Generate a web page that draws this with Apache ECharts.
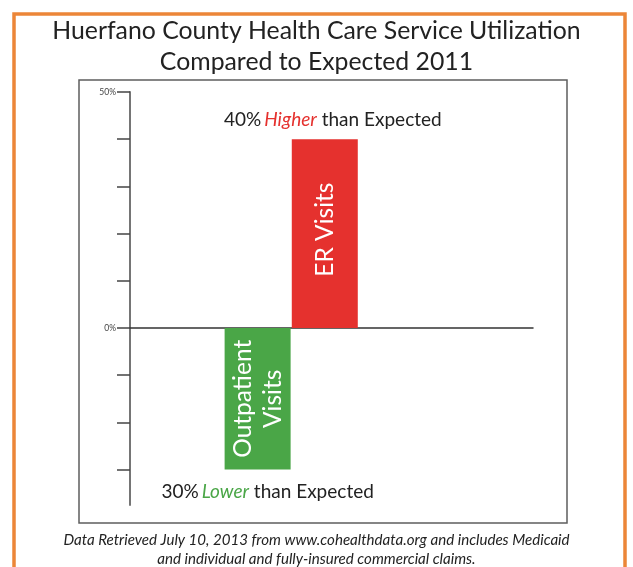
<!DOCTYPE html>
<html>
<head>
<meta charset="utf-8">
<script src="https://cdn.jsdelivr.net/npm/echarts@6/dist/echarts.min.js"></script>
<style>
html,body{margin:0;padding:0;background:#fff;}
#chart{width:633px;height:567px;}
</style>
</head>
<body>
<div id="chart"></div>
<script>
// ---- data ----
const titleLines = ['Huerfano County Health Care Service Utilization', 'Compared to Expected 2011'];
const categories = ['Outpatient\nVisits', 'ER Visits'];
const values = [-30, 40];
const comparisonWords = ['Lower', 'Higher'];
const barColors = ['#4aa647', '#e5312e'];
const yTickValues = [-30, -20, -10, 0, 10, 20, 30, 40, 50];
const yLabelValues = [0, 50];
const footnoteLines = [
  'Data Retrieved July 10, 2013 from www.cohealthdata.org and includes Medicaid',
  'and individual and fully-insured commercial claims.'
];

const FONT = 'Lato';
const chart = echarts.init(document.getElementById('chart'), null, {renderer: 'canvas'});

const barData = values.map((v, i) => ({
  value: [i, v],
  itemStyle: {color: barColors[i]},
  label: {offset: v < 0 ? [0, 0] : [4, 0]}
}));

const annoData = values.map((v, i) => ({
  value: [i, v],
  label: {
    position: v < 0 ? 'bottom' : 'top',
    distance: v < 0 ? 13 : 10,
    offset: v < 0 ? [10, 0] : [8, 0],
    formatter: () => '{n|' + Math.abs(v) + '%} {' + (v < 0 ? 'lo' : 'hi') + '|' + comparisonWords[i] + '}{n| than Expected}'
  }
}));

chart.setOption({
  backgroundColor: '#fff',
  animation: false,
  title: [{
    text: titleLines.join('\n'),
    left: 'center',
    top: 11,
    textStyle: {fontFamily: FONT, fontSize: 24.8, fontWeight: 'normal', color: '#222', lineHeight: 31}
  }, {
    text: footnoteLines.join('\n'),
    left: 'center',
    top: 525,
    textStyle: {fontFamily: FONT, fontSize: 15.1, fontStyle: 'italic', fontWeight: 'normal', color: '#222', lineHeight: 19.5}
  }],
  graphic: [{
    type: 'rect',
    shape: {x: 14, y: 14, width: 611, height: 620},
    style: {fill: 'none', stroke: '#ec8638', lineWidth: 3.5},
    silent: true
  }, {
    type: 'rect',
    shape: {x: 79, y: 80, width: 488, height: 443},
    style: {fill: 'none', stroke: '#5e5e5e', lineWidth: 1.5},
    silent: true
  }],
  grid: {left: 130, right: 100, top: 92, bottom: 62},
  xAxis: {
    type: 'value',
    min: -1.9,
    max: 4.1,
    axisLine: {show: true, onZero: true, lineStyle: {color: '#333', width: 1.5}},
    axisTick: {show: false},
    axisLabel: {show: false},
    splitLine: {show: false}
  },
  yAxis: {
    type: 'value',
    min: -37.5,
    max: 50,
    axisLine: {show: true, onZero: false, lineStyle: {color: '#666', width: 1.8}},
    axisTick: {show: true, length: 13, customValues: yTickValues, lineStyle: {color: '#444', width: 1.5}},
    axisLabel: {
      show: true, customValues: yLabelValues, margin: 14,
      formatter: v => v + '%',
      fontFamily: FONT, fontSize: 8.5, color: '#444'
    },
    splitLine: {show: false}
  },
  series: [{
    type: 'bar',
    name: 'bars',
    barWidth: 66,
    barGap: '-100%',
    data: barData,
    label: {
      show: true,
      position: 'inside',
      rotate: 90,
      align: 'center',
      verticalAlign: 'middle',
      formatter: p => categories[p.dataIndex],
      fontFamily: FONT,
      fontSize: 24.5,
      lineHeight: 30,
      color: '#fff'
    }
  }, {
    type: 'bar',
    name: 'annotations',
    barWidth: 66,
    barGap: '-100%',
    data: annoData,
    itemStyle: {color: 'rgba(0,0,0,0)'},
    label: {
      show: true,
      fontFamily: FONT,
      rich: {
        n: {fontFamily: FONT, fontSize: 19, color: '#222'},
        hi: {fontFamily: FONT, fontSize: 19, color: '#e5312e', fontStyle: 'italic'},
        lo: {fontFamily: FONT, fontSize: 19, color: '#4aa647', fontStyle: 'italic'}
      }
    },
    z: 3
  }]
});
</script>
</body>
</html>
